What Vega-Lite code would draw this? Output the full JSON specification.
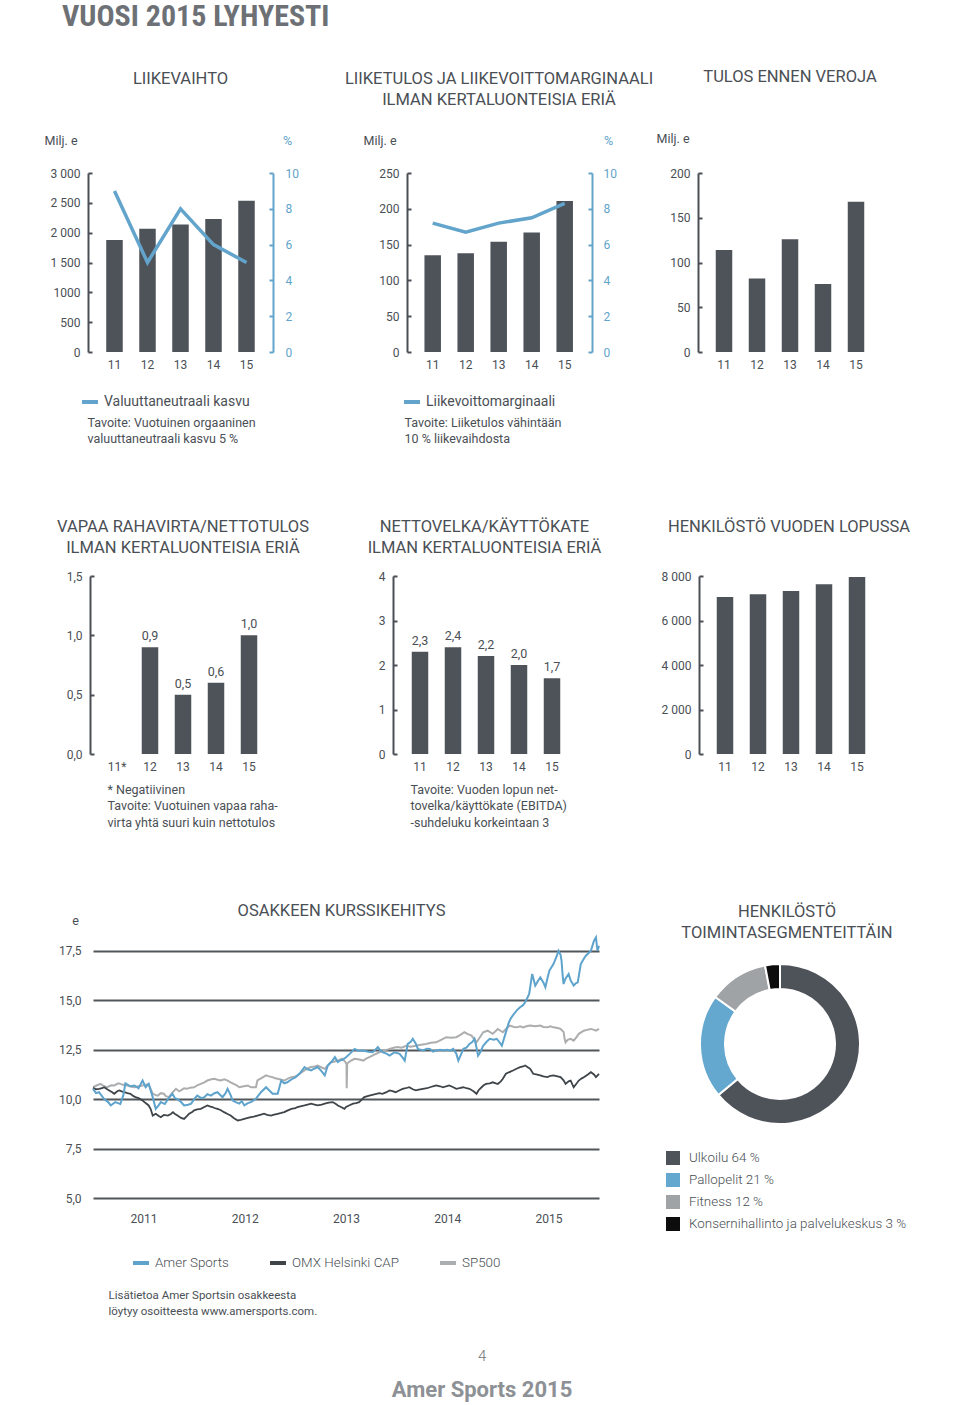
{
  "$schema": "https://vega.github.io/schema/vega-lite/v6.json",
  "padding": {"left": 44, "top": 1, "right": 10, "bottom": 4},
  "background": "white",
  "title": {"text": "4", "subtitle": "Amer Sports 2015", "orient": "bottom", "anchor": "middle", "frame": "bounds", "dx": 5, "offset": 32, "fontSize": 15, "fontWeight": 300, "color": "#707478", "subtitleFont": "Roboto", "subtitleFontSize": 22, "subtitleFontWeight": "bold", "subtitleColor": "#8d9094", "subtitlePadding": 16},
  "spacing": 73,
  "resolve": {"scale": {"color": "independent"}},
  "datasets": {
    "amer": [{"t":2011,"v":10.52},{"t":2011.03,"v":10.3},{"t":2011.06,"v":10.35},{"t":2011.11,"v":10},{"t":2011.15,"v":9.85},{"t":2011.175,"v":9.68},{"t":2011.22,"v":9.85},{"t":2011.27,"v":9.75},{"t":2011.3,"v":10.2},{"t":2011.32,"v":10.8},{"t":2011.37,"v":10.65},{"t":2011.41,"v":10.69},{"t":2011.45,"v":10.55},{"t":2011.49,"v":10.94},{"t":2011.52,"v":10.6},{"t":2011.55,"v":10.77},{"t":2011.59,"v":10.1},{"t":2011.62,"v":9.51},{"t":2011.65,"v":9.7},{"t":2011.67,"v":9.85},{"t":2011.71,"v":9.75},{"t":2011.74,"v":10},{"t":2011.785,"v":10.27},{"t":2011.81,"v":10.05},{"t":2011.835,"v":10},{"t":2011.87,"v":9.85},{"t":2011.9,"v":9.68},{"t":2011.94,"v":9.72},{"t":2011.97,"v":9.77},{"t":2012,"v":10},{"t":2012.03,"v":10.18},{"t":2012.07,"v":10.05},{"t":2012.1,"v":10.1},{"t":2012.13,"v":10.25},{"t":2012.165,"v":10.18},{"t":2012.2,"v":10.3},{"t":2012.23,"v":10.35},{"t":2012.26,"v":10.2},{"t":2012.28,"v":10.1},{"t":2012.31,"v":10.3},{"t":2012.33,"v":10.52},{"t":2012.36,"v":10.2},{"t":2012.38,"v":9.93},{"t":2012.41,"v":9.85},{"t":2012.445,"v":9.77},{"t":2012.47,"v":9.9},{"t":2012.495,"v":9.68},{"t":2012.53,"v":9.8},{"t":2012.56,"v":9.85},{"t":2012.61,"v":10.02},{"t":2012.66,"v":10.35},{"t":2012.71,"v":10.6},{"t":2012.74,"v":10.45},{"t":2012.775,"v":10.27},{"t":2012.825,"v":10.27},{"t":2012.86,"v":10.94},{"t":2012.89,"v":10.8},{"t":2012.92,"v":10.85},{"t":2012.97,"v":11.03},{"t":2013,"v":11.1},{"t":2013.04,"v":11.28},{"t":2013.09,"v":11.62},{"t":2013.12,"v":11.5},{"t":2013.155,"v":11.45},{"t":2013.19,"v":11.55},{"t":2013.22,"v":11.62},{"t":2013.26,"v":11.4},{"t":2013.29,"v":11.2},{"t":2013.32,"v":11.7},{"t":2013.36,"v":11.9},{"t":2013.39,"v":12.12},{"t":2013.42,"v":11.87},{"t":2013.44,"v":11.95},{"t":2013.47,"v":12},{"t":2013.5,"v":12.12},{"t":2013.54,"v":12.3},{"t":2013.585,"v":12.54},{"t":2013.62,"v":12.45},{"t":2013.67,"v":12.46},{"t":2013.72,"v":12.4},{"t":2013.765,"v":12.37},{"t":2013.79,"v":12.5},{"t":2013.815,"v":12.63},{"t":2013.84,"v":12.45},{"t":2013.865,"v":12.37},{"t":2013.9,"v":12.3},{"t":2013.93,"v":12.2},{"t":2013.96,"v":12.3},{"t":2013.98,"v":12.37},{"t":2014.03,"v":12.29},{"t":2014.06,"v":12.1},{"t":2014.08,"v":11.95},{"t":2014.11,"v":12.79},{"t":2014.14,"v":12.9},{"t":2014.16,"v":13.05},{"t":2014.19,"v":12.8},{"t":2014.21,"v":12.54},{"t":2014.26,"v":12.46},{"t":2014.3,"v":12.55},{"t":2014.33,"v":12.54},{"t":2014.36,"v":12.4},{"t":2014.39,"v":12.46},{"t":2014.43,"v":12.5},{"t":2014.46,"v":12.46},{"t":2014.5,"v":12.5},{"t":2014.53,"v":12.45},{"t":2014.56,"v":12.54},{"t":2014.59,"v":12.3},{"t":2014.61,"v":11.95},{"t":2014.64,"v":12.3},{"t":2014.66,"v":12.54},{"t":2014.69,"v":12.6},{"t":2014.72,"v":12.79},{"t":2014.75,"v":12.9},{"t":2014.77,"v":13.05},{"t":2014.79,"v":12.6},{"t":2014.805,"v":12.2},{"t":2014.83,"v":12.4},{"t":2014.855,"v":12.7},{"t":2014.89,"v":12.9},{"t":2014.92,"v":13.05},{"t":2014.96,"v":13},{"t":2014.99,"v":13.05},{"t":2015.02,"v":12.85},{"t":2015.04,"v":12.7},{"t":2015.07,"v":13.21},{"t":2015.11,"v":13.89},{"t":2015.13,"v":14.1},{"t":2015.16,"v":14.31},{"t":2015.19,"v":14.5},{"t":2015.22,"v":14.65},{"t":2015.25,"v":14.75},{"t":2015.27,"v":14.9},{"t":2015.29,"v":15.1},{"t":2015.31,"v":15.32},{"t":2015.33,"v":16},{"t":2015.34,"v":16.33},{"t":2015.37,"v":15.74},{"t":2015.4,"v":16},{"t":2015.42,"v":16.16},{"t":2015.45,"v":15.9},{"t":2015.47,"v":15.66},{"t":2015.49,"v":16.1},{"t":2015.51,"v":16.5},{"t":2015.55,"v":16.83},{"t":2015.58,"v":17.2},{"t":2015.6,"v":17.5},{"t":2015.62,"v":17.3},{"t":2015.63,"v":17},{"t":2015.64,"v":16.3},{"t":2015.65,"v":15.82},{"t":2015.67,"v":16.1},{"t":2015.7,"v":16.33},{"t":2015.72,"v":16},{"t":2015.75,"v":15.74},{"t":2015.77,"v":15.85},{"t":2015.79,"v":15.9},{"t":2015.82,"v":16.83},{"t":2015.85,"v":17.1},{"t":2015.87,"v":17.25},{"t":2015.9,"v":17.4},{"t":2015.92,"v":17.5},{"t":2015.95,"v":18},{"t":2015.97,"v":18.18},{"t":2015.985,"v":17.5},{"t":2016,"v":17.75}],
    "omx": [{"t":2011,"v":10.57},{"t":2011.03,"v":10.5},{"t":2011.06,"v":10.52},{"t":2011.09,"v":10.55},{"t":2011.11,"v":10.6},{"t":2011.14,"v":10.5},{"t":2011.16,"v":10.44},{"t":2011.19,"v":10.35},{"t":2011.21,"v":10.27},{"t":2011.24,"v":10.4},{"t":2011.26,"v":10.44},{"t":2011.29,"v":10.38},{"t":2011.31,"v":10.35},{"t":2011.34,"v":10.3},{"t":2011.37,"v":10.27},{"t":2011.4,"v":10.15},{"t":2011.42,"v":10.1},{"t":2011.45,"v":10.05},{"t":2011.49,"v":9.93},{"t":2011.52,"v":9.8},{"t":2011.55,"v":9.68},{"t":2011.57,"v":9.5},{"t":2011.59,"v":9.17},{"t":2011.62,"v":9.26},{"t":2011.65,"v":9.15},{"t":2011.67,"v":9.09},{"t":2011.7,"v":9.2},{"t":2011.74,"v":9.17},{"t":2011.77,"v":9.25},{"t":2011.79,"v":9.34},{"t":2011.81,"v":9.25},{"t":2011.835,"v":9.17},{"t":2011.87,"v":9.05},{"t":2011.9,"v":9},{"t":2011.93,"v":9.15},{"t":2011.95,"v":9.26},{"t":2011.98,"v":9.35},{"t":2012,"v":9.43},{"t":2012.03,"v":9.48},{"t":2012.065,"v":9.51},{"t":2012.1,"v":9.6},{"t":2012.13,"v":9.68},{"t":2012.16,"v":9.62},{"t":2012.18,"v":9.6},{"t":2012.2,"v":9.55},{"t":2012.23,"v":9.51},{"t":2012.26,"v":9.45},{"t":2012.295,"v":9.34},{"t":2012.33,"v":9.25},{"t":2012.36,"v":9.17},{"t":2012.39,"v":9.05},{"t":2012.43,"v":8.92},{"t":2012.46,"v":8.95},{"t":2012.495,"v":9},{"t":2012.53,"v":9.05},{"t":2012.56,"v":9.09},{"t":2012.59,"v":9.12},{"t":2012.625,"v":9.17},{"t":2012.66,"v":9.22},{"t":2012.69,"v":9.26},{"t":2012.72,"v":9.2},{"t":2012.76,"v":9.17},{"t":2012.79,"v":9.22},{"t":2012.825,"v":9.26},{"t":2012.86,"v":9.3},{"t":2012.89,"v":9.34},{"t":2012.92,"v":9.42},{"t":2012.96,"v":9.51},{"t":2013,"v":9.55},{"t":2013.02,"v":9.6},{"t":2013.06,"v":9.65},{"t":2013.09,"v":9.68},{"t":2013.12,"v":9.72},{"t":2013.155,"v":9.77},{"t":2013.19,"v":9.72},{"t":2013.22,"v":9.68},{"t":2013.26,"v":9.72},{"t":2013.29,"v":9.77},{"t":2013.33,"v":9.82},{"t":2013.37,"v":9.85},{"t":2013.4,"v":9.75},{"t":2013.42,"v":9.68},{"t":2013.45,"v":9.6},{"t":2013.485,"v":9.51},{"t":2013.5,"v":9.6},{"t":2013.53,"v":9.68},{"t":2013.57,"v":9.77},{"t":2013.6,"v":9.8},{"t":2013.63,"v":9.85},{"t":2013.66,"v":10},{"t":2013.68,"v":10.1},{"t":2013.73,"v":10.18},{"t":2013.76,"v":10.22},{"t":2013.8,"v":10.27},{"t":2013.83,"v":10.3},{"t":2013.86,"v":10.27},{"t":2013.9,"v":10.35},{"t":2013.93,"v":10.44},{"t":2013.96,"v":10.4},{"t":2013.99,"v":10.35},{"t":2014.03,"v":10.45},{"t":2014.06,"v":10.52},{"t":2014.09,"v":10.55},{"t":2014.125,"v":10.6},{"t":2014.16,"v":10.5},{"t":2014.19,"v":10.44},{"t":2014.22,"v":10.48},{"t":2014.26,"v":10.52},{"t":2014.3,"v":10.55},{"t":2014.33,"v":10.6},{"t":2014.36,"v":10.65},{"t":2014.39,"v":10.69},{"t":2014.43,"v":10.65},{"t":2014.46,"v":10.6},{"t":2014.49,"v":10.65},{"t":2014.52,"v":10.69},{"t":2014.56,"v":10.6},{"t":2014.59,"v":10.52},{"t":2014.62,"v":10.55},{"t":2014.66,"v":10.6},{"t":2014.69,"v":10.55},{"t":2014.72,"v":10.52},{"t":2014.76,"v":10.4},{"t":2014.79,"v":10.27},{"t":2014.81,"v":10.45},{"t":2014.84,"v":10.6},{"t":2014.86,"v":10.7},{"t":2014.885,"v":10.77},{"t":2014.92,"v":10.8},{"t":2014.95,"v":10.85},{"t":2014.98,"v":10.8},{"t":2015,"v":10.77},{"t":2015.03,"v":10.9},{"t":2015.05,"v":11.03},{"t":2015.08,"v":11.28},{"t":2015.12,"v":11.38},{"t":2015.15,"v":11.45},{"t":2015.19,"v":11.55},{"t":2015.22,"v":11.62},{"t":2015.25,"v":11.65},{"t":2015.27,"v":11.7},{"t":2015.3,"v":11.6},{"t":2015.32,"v":11.53},{"t":2015.35,"v":11.28},{"t":2015.38,"v":11.25},{"t":2015.42,"v":11.2},{"t":2015.45,"v":11.15},{"t":2015.49,"v":11.11},{"t":2015.52,"v":11.18},{"t":2015.55,"v":11.2},{"t":2015.59,"v":11.15},{"t":2015.62,"v":11.11},{"t":2015.65,"v":10.95},{"t":2015.67,"v":10.77},{"t":2015.7,"v":10.9},{"t":2015.72,"v":10.94},{"t":2015.75,"v":10.6},{"t":2015.78,"v":10.8},{"t":2015.8,"v":10.94},{"t":2015.83,"v":11.05},{"t":2015.85,"v":11.11},{"t":2015.89,"v":11.25},{"t":2015.92,"v":11.36},{"t":2015.95,"v":11.25},{"t":2015.97,"v":11.11},{"t":2016,"v":11.28}],
    "sp500": [{"t":2011,"v":10.6},{"t":2011.04,"v":10.7},{"t":2011.075,"v":10.77},{"t":2011.11,"v":10.65},{"t":2011.14,"v":10.6},{"t":2011.18,"v":10.7},{"t":2011.21,"v":10.69},{"t":2011.25,"v":10.8},{"t":2011.27,"v":10.77},{"t":2011.31,"v":10.7},{"t":2011.34,"v":10.69},{"t":2011.38,"v":10.62},{"t":2011.41,"v":10.6},{"t":2011.45,"v":10.65},{"t":2011.49,"v":10.69},{"t":2011.52,"v":10.72},{"t":2011.55,"v":10.77},{"t":2011.57,"v":10.5},{"t":2011.59,"v":10.27},{"t":2011.62,"v":10.2},{"t":2011.64,"v":10.18},{"t":2011.67,"v":10.3},{"t":2011.7,"v":10.27},{"t":2011.72,"v":10.15},{"t":2011.75,"v":10.1},{"t":2011.78,"v":10.3},{"t":2011.82,"v":10.52},{"t":2011.85,"v":10.4},{"t":2011.87,"v":10.44},{"t":2011.9,"v":10.55},{"t":2011.93,"v":10.52},{"t":2011.96,"v":10.58},{"t":2012,"v":10.6},{"t":2012.03,"v":10.7},{"t":2012.065,"v":10.77},{"t":2012.1,"v":10.85},{"t":2012.13,"v":10.94},{"t":2012.17,"v":11},{"t":2012.2,"v":11.03},{"t":2012.23,"v":10.98},{"t":2012.26,"v":10.94},{"t":2012.3,"v":11},{"t":2012.33,"v":10.94},{"t":2012.36,"v":10.85},{"t":2012.39,"v":10.77},{"t":2012.42,"v":10.7},{"t":2012.445,"v":10.6},{"t":2012.49,"v":10.65},{"t":2012.53,"v":10.69},{"t":2012.56,"v":10.6},{"t":2012.61,"v":10.6},{"t":2012.625,"v":10.95},{"t":2012.66,"v":11.05},{"t":2012.71,"v":11.2},{"t":2012.74,"v":11.15},{"t":2012.775,"v":11.11},{"t":2012.8,"v":11.05},{"t":2012.825,"v":11.03},{"t":2012.86,"v":10.98},{"t":2012.89,"v":10.94},{"t":2012.93,"v":11.05},{"t":2012.96,"v":11.11},{"t":2013,"v":11.15},{"t":2013.02,"v":11.2},{"t":2013.06,"v":11.35},{"t":2013.09,"v":11.45},{"t":2013.12,"v":11.55},{"t":2013.155,"v":11.62},{"t":2013.19,"v":11.65},{"t":2013.22,"v":11.7},{"t":2013.26,"v":11.6},{"t":2013.29,"v":11.53},{"t":2013.32,"v":11.7},{"t":2013.35,"v":11.87},{"t":2013.39,"v":11.9},{"t":2013.42,"v":11.95},{"t":2013.46,"v":12.04},{"t":2013.49,"v":11.9},{"t":2013.505,"v":11.78},{"t":2013.507,"v":10.55},{"t":2013.512,"v":11.8},{"t":2013.55,"v":11.95},{"t":2013.585,"v":12.04},{"t":2013.63,"v":12},{"t":2013.67,"v":11.95},{"t":2013.7,"v":12.05},{"t":2013.73,"v":12.12},{"t":2013.78,"v":12.25},{"t":2013.83,"v":12.37},{"t":2013.88,"v":12.45},{"t":2013.93,"v":12.54},{"t":2013.97,"v":12.6},{"t":2014.01,"v":12.63},{"t":2014.05,"v":12.6},{"t":2014.095,"v":12.7},{"t":2014.14,"v":12.65},{"t":2014.19,"v":12.7},{"t":2014.24,"v":12.75},{"t":2014.29,"v":12.79},{"t":2014.34,"v":12.85},{"t":2014.39,"v":12.87},{"t":2014.44,"v":13},{"t":2014.49,"v":13.13},{"t":2014.54,"v":13.1},{"t":2014.59,"v":13.13},{"t":2014.63,"v":13.25},{"t":2014.67,"v":13.38},{"t":2014.7,"v":13.3},{"t":2014.74,"v":13.21},{"t":2014.79,"v":12.87},{"t":2014.82,"v":13.1},{"t":2014.855,"v":13.38},{"t":2014.9,"v":13.46},{"t":2014.95,"v":13.3},{"t":2015,"v":13.55},{"t":2015.05,"v":13.38},{"t":2015.08,"v":13.55},{"t":2015.12,"v":13.72},{"t":2015.16,"v":13.65},{"t":2015.19,"v":13.63},{"t":2015.22,"v":13.68},{"t":2015.25,"v":13.63},{"t":2015.29,"v":13.7},{"t":2015.32,"v":13.72},{"t":2015.37,"v":13.68},{"t":2015.42,"v":13.72},{"t":2015.45,"v":13.65},{"t":2015.49,"v":13.63},{"t":2015.52,"v":13.68},{"t":2015.55,"v":13.63},{"t":2015.59,"v":13.6},{"t":2015.62,"v":13.55},{"t":2015.65,"v":13.4},{"t":2015.66,"v":13.05},{"t":2015.67,"v":12.87},{"t":2015.69,"v":13},{"t":2015.72,"v":13.05},{"t":2015.75,"v":12.96},{"t":2015.78,"v":13.15},{"t":2015.8,"v":13.3},{"t":2015.85,"v":13.46},{"t":2015.88,"v":13.5},{"t":2015.92,"v":13.55},{"t":2015.95,"v":13.5},{"t":2015.97,"v":13.46},{"t":2016,"v":13.55}]
  },
  "vconcat": [
    {
      "title": {"text": "VUOSI 2015 LYHYESTI", "anchor": "start", "frame": "group", "dx": -31, "offset": 37, "font": "Roboto Condensed, Roboto", "fontSize": 30, "fontWeight": "bold", "color": "#6d7176"},
      "bounds": "flush",
      "spacing": 25,
      "resolve": {"scale": {"color": "independent"}},
      "hconcat": [
        {
          "width": 175, "height": 179,
          "title": {"text": "LIIKEVAIHTO", "offset": 47},
          "data": {"values": [
            {"vuosi": "11", "liikevaihto": 1878, "kasvu": 9},
            {"vuosi": "12", "liikevaihto": 2064, "kasvu": 5},
            {"vuosi": "13", "liikevaihto": 2136, "kasvu": 8},
            {"vuosi": "14", "liikevaihto": 2228, "kasvu": 6},
            {"vuosi": "15", "liikevaihto": 2534, "kasvu": 5}
          ]},
          "encoding": {
            "x": {"field": "vuosi", "type": "ordinal", "scale": {"paddingInner": 0.5, "paddingOuter": 0.4015, "align": 0.5},
                  "axis": {"title": ["Tavoite: Vuotuinen orgaaninen", "valuuttaneutraali kasvu 5 %"], "titleX": -6, "titleY": 64}}
          },
          "layer": [
            {"mark": {"type": "bar", "color": "#4e535a"},
             "encoding": {"y": {"field": "liikevaihto", "type": "quantitative", "scale": {"domain": [0, 3000]},
               "axis": {"values": [0, 500, 1000, 1500, 2000, 2500, 3000], "labelExpr": "datum.value == 1000 ? '1000' : replace(format(datum.value, ','), ',', ' ')", "offset": 5, "title": "Milj. e", "titleX": -44, "titleY": -33}}}},
            {"mark": {"type": "line", "strokeWidth": 3.5},
             "encoding": {
               "y": {"field": "kasvu", "type": "quantitative", "scale": {"domain": [0, 10]},
                 "axis": {"orient": "right", "values": [0, 2, 4, 6, 8, 10], "offset": 5, "labelPadding": 16, "domainColor": "#62a4cb", "tickColor": "#62a4cb", "labelColor": "#62a4cb", "titleColor": "#62a4cb", "title": "%", "titleX": 14, "titleY": -33, "titleAlign": "center"}},
               "color": {"datum": "Valuuttaneutraali kasvu", "type": "nominal", "scale": {"range": ["#62a4cb"]},
                 "legend": {"title": null, "orient": "none", "legendX": -13, "legendY": 219, "symbolType": "stroke", "symbolSize": 256, "symbolStrokeWidth": 4}}}}
          ],
          "resolve": {"scale": {"y": "independent"}}
        },
        {
          "width": 299, "height": 179,
          "title": {"text": ["LIIKETULOS JA LIIKEVOITTOMARGINAALI", "ILMAN KERTALUONTEISIA ERIÄ"], "offset": 26, "dx": 56.5},
          "data": {"values": [
            {"vuosi": "11", "liiketulos": 135, "marginaali": 7.2},
            {"vuosi": "12", "liiketulos": 138, "marginaali": 6.7},
            {"vuosi": "13", "liiketulos": 154, "marginaali": 7.2},
            {"vuosi": "14", "liiketulos": 167, "marginaali": 7.5},
            {"vuosi": "15", "liiketulos": 211, "marginaali": 8.3}
          ]},
          "encoding": {
            "x": {"field": "vuosi", "type": "ordinal", "scale": {"paddingInner": 0.5, "paddingOuter": 0.25, "range": [123.2, 288.2]},
                  "axis": {"title": ["Tavoite: Liiketulos vähintään", "10 % liikevaihdosta"], "titleX": 111, "titleY": 64}}
          },
          "layer": [
            {"mark": {"type": "bar", "color": "#4e535a"},
             "encoding": {"y": {"field": "liiketulos", "type": "quantitative", "scale": {"domain": [0, 250]},
               "axis": {"values": [0, 50, 100, 150, 200, 250], "offset": -114, "title": "Milj. e", "titleX": -44, "titleY": -33}}}},
            {"mark": {"type": "line", "strokeWidth": 3.5},
             "encoding": {
               "y": {"field": "marginaali", "type": "quantitative", "scale": {"domain": [0, 10]},
                 "axis": {"orient": "right", "values": [0, 2, 4, 6, 8, 10], "offset": 0, "labelPadding": 15, "domainColor": "#62a4cb", "tickColor": "#62a4cb", "labelColor": "#62a4cb", "titleColor": "#62a4cb", "title": "%", "titleX": 16, "titleY": -33, "titleAlign": "center"}},
               "color": {"datum": "Liikevoittomarginaali", "type": "nominal", "scale": {"range": ["#62a4cb"]},
                 "legend": {"title": null, "orient": "none", "legendX": 109, "legendY": 219, "symbolType": "stroke", "symbolSize": 256, "symbolStrokeWidth": 4}}}}
          ],
          "resolve": {"scale": {"y": "independent"}}
        },
        {
          "width": 267, "height": 179,
          "title": {"text": "TULOS ENNEN VEROJA", "offset": 47, "dx": 39.5},
          "data": {"values": [
            {"vuosi": "11", "tulos": 114},
            {"vuosi": "12", "tulos": 82},
            {"vuosi": "13", "tulos": 126},
            {"vuosi": "14", "tulos": 76},
            {"vuosi": "15", "tulos": 168}
          ]},
          "mark": {"type": "bar", "color": "#4e535a"},
          "encoding": {
            "x": {"field": "vuosi", "type": "ordinal", "scale": {"paddingInner": 0.5, "paddingOuter": 0.25, "range": [90.5, 255.5]}, "axis": {"title": null}},
            "y": {"field": "tulos", "type": "quantitative", "scale": {"domain": [0, 200]},
              "axis": {"values": [0, 50, 100, 150, 200], "offset": -81, "title": "Milj. e", "titleX": -42, "titleY": -35}}
          }
        }
      ]
    },
    {
      "bounds": "flush",
      "spacing": 25,
      "resolve": {"scale": {"color": "independent"}},
      "hconcat": [
        {
          "width": 180, "height": 178,
          "title": {"text": ["VAPAA RAHAVIRTA/NETTOTULOS", "ILMAN KERTALUONTEISIA ERIÄ"], "offset": 14},
          "data": {"values": [
            {"vuosi": "11*", "suhde": 0, "nimike": ""},
            {"vuosi": "12", "suhde": 0.9, "nimike": "0,9"},
            {"vuosi": "13", "suhde": 0.5, "nimike": "0,5"},
            {"vuosi": "14", "suhde": 0.6, "nimike": "0,6"},
            {"vuosi": "15", "suhde": 1.0, "nimike": "1,0"}
          ]},
          "encoding": {
            "x": {"field": "vuosi", "type": "ordinal", "sort": null, "scale": {"paddingInner": 0.5, "paddingOuter": 0.477, "align": 0.5},
                  "axis": {"title": ["* Negatiivinen", "Tavoite: Vuotuinen vapaa raha-", "virta yhtä suuri kuin nettotulos"], "titleX": 14, "titleY": 29}},
            "y": {"field": "suhde", "type": "quantitative", "scale": {"domain": [0, 1.5]},
                  "axis": {"values": [0, 0.5, 1, 1.5], "labelExpr": "replace(format(datum.value, '.1f'), '.', ',')", "offset": 3, "title": null}}
          },
          "layer": [
            {"mark": {"type": "bar", "color": "#4e535a"}},
            {"mark": {"type": "text", "dy": -11, "fontSize": 12.5, "color": "#4a4f55"}, "encoding": {"text": {"field": "nimike"}}}
          ]
        },
        {
          "width": 281, "height": 178,
          "title": {"text": ["NETTOVELKA/KÄYTTÖKATE", "ILMAN KERTALUONTEISIA ERIÄ"], "offset": 14, "dx": 46},
          "data": {"values": [
            {"vuosi": "11", "suhde": 2.3, "nimike": "2,3"},
            {"vuosi": "12", "suhde": 2.4, "nimike": "2,4"},
            {"vuosi": "13", "suhde": 2.2, "nimike": "2,2"},
            {"vuosi": "14", "suhde": 2.0, "nimike": "2,0"},
            {"vuosi": "15", "suhde": 1.7, "nimike": "1,7"}
          ]},
          "encoding": {
            "x": {"field": "vuosi", "type": "ordinal", "scale": {"paddingInner": 0.5, "paddingOuter": 0.25, "range": [105.5, 270.5]},
                  "axis": {"title": ["Tavoite: Vuoden lopun net-", "tovelka/käyttökate (EBITDA)", "-suhdeluku korkeintaan 3"], "titleX": 112, "titleY": 29}},
            "y": {"field": "suhde", "type": "quantitative", "scale": {"domain": [0, 4]},
                  "axis": {"values": [0, 1, 2, 3, 4], "offset": -95, "title": null}}
          },
          "layer": [
            {"mark": {"type": "bar", "color": "#4e535a"}},
            {"mark": {"type": "text", "dy": -11, "fontSize": 12.5, "color": "#4a4f55"}, "encoding": {"text": {"field": "nimike"}}}
          ]
        },
        {
          "width": 279, "height": 178,
          "title": {"text": "HENKILÖSTÖ VUODEN LOPUSSA", "offset": 35, "dx": 45.5},
          "data": {"values": [
            {"vuosi": "11", "henkilosto": 7055},
            {"vuosi": "12", "henkilosto": 7176},
            {"vuosi": "13", "henkilosto": 7325},
            {"vuosi": "14", "henkilosto": 7626},
            {"vuosi": "15", "henkilosto": 7955}
          ]},
          "mark": {"type": "bar", "color": "#4e535a"},
          "encoding": {
            "x": {"field": "vuosi", "type": "ordinal", "scale": {"paddingInner": 0.5, "paddingOuter": 0.25, "range": [104.5, 269.5]}, "axis": {"title": null}},
            "y": {"field": "henkilosto", "type": "quantitative", "scale": {"domain": [0, 8000]},
                  "axis": {"values": [0, 2000, 4000, 6000, 8000], "labelExpr": "replace(format(datum.value, ','), ',', ' ')", "offset": -95, "title": null}}
          }
        }
      ]
    },
    {
      "bounds": "flush",
      "spacing": 67,
      "resolve": {"scale": {"color": "independent"}},
      "hconcat": [
        {
          "width": 506, "height": 265,
          "title": {"text": "OSAKKEEN KURSSIKEHITYS", "dx": -4.5, "offset": -5},
          "encoding": {
            "x": {"field": "t", "type": "quantitative", "scale": {"domain": [2011, 2016], "nice": false, "zero": false},
                  "axis": {"values": [2011.5, 2012.5, 2013.5, 2014.5, 2015.5], "labelExpr": "format(floor(datum.value), 'd')", "labelPadding": 15,
                           "title": ["Lisätietoa Amer Sportsin osakkeesta", "löytyy osoitteesta www.amersports.com."], "titleX": 15, "titleY": 91, "titleFontSize": 11.5, "titleLineHeight": 16}},
            "y": {"field": "v", "type": "quantitative", "scale": {"domain": [5, 18.4], "nice": false, "zero": false},
                  "axis": {"values": [5, 7.5, 10, 12.5, 15, 17.5], "labelExpr": "replace(format(datum.value, '.1f'), '.', ',')", "domain": false, "ticks": false, "grid": true, "gridColor": "#51565b", "gridWidth": 2, "labelPadding": 12, "title": "e", "titleX": -18, "titleY": -13, "titleAlign": "center"}}
          },
          "layer": [
            {"data": {"name": "sp500"}, "mark": {"type": "line", "strokeWidth": 2},
             "encoding": {"color": {"datum": "SP500", "type": "nominal",
               "scale": {"domain": ["Amer Sports", "OMX Helsinki CAP", "SP500"], "range": ["#5ea3cc", "#3f4449", "#abadaf"]},
               "legend": {"title": null, "orient": "none", "direction": "horizontal", "legendX": 38, "legendY": 320, "columnPadding": 33, "symbolType": "stroke", "symbolSize": 256, "symbolStrokeWidth": 4, "labelFontSize": 13.4, "labelFontWeight": 300}}}},
            {"data": {"name": "omx"}, "mark": {"type": "line", "strokeWidth": 1.8},
             "encoding": {"color": {"datum": "OMX Helsinki CAP", "type": "nominal"}}},
            {"data": {"name": "amer"}, "mark": {"type": "line", "strokeWidth": 2},
             "encoding": {"color": {"datum": "Amer Sports", "type": "nominal"}}}
          ]
        },
        {
          "width": 228, "height": 222,
          "title": {"text": ["HENKILÖSTÖ", "TOIMINTASEGMENTEITTÄIN"], "dx": 7, "offset": -8},
          "data": {"values": [
            {"segmentti": "Ulkoilu 64 %", "osuus": 64, "jarjestys": 1},
            {"segmentti": "Pallopelit 21 %", "osuus": 21, "jarjestys": 2},
            {"segmentti": "Fitness 12 %", "osuus": 12, "jarjestys": 3},
            {"segmentti": "Konsernihallinto ja palvelukeskus 3 %", "osuus": 3, "jarjestys": 4}
          ]},
          "mark": {"type": "arc", "innerRadius": 55, "outerRadius": 80, "stroke": "white", "strokeWidth": 2},
          "encoding": {
            "theta": {"field": "osuus", "type": "quantitative", "stack": true},
            "order": {"field": "jarjestys", "type": "quantitative"},
            "color": {"field": "segmentti", "type": "nominal",
              "scale": {"domain": ["Ulkoilu 64 %", "Pallopelit 21 %", "Fitness 12 %", "Konsernihallinto ja palvelukeskus 3 %"], "range": ["#4e535a", "#64a7cf", "#a0a3a6", "#0d0d0d"]},
              "legend": {"title": null, "orient": "none", "legendX": 0, "legendY": 218, "symbolType": "square", "symbolSize": 196, "symbolStrokeWidth": 0, "rowPadding": 8, "labelOffset": 9, "labelFontSize": 13.4, "labelFontWeight": 300, "labelLimit": 320}}
          }
        }
      ]
    }
  ],
  "config": {
    "view": {"stroke": null},
    "font": "Roboto",
    "title": {"font": "Roboto", "fontSize": 16.5, "fontWeight": "normal", "color": "#4a4f55", "anchor": "middle", "frame": "group", "lineHeight": 21},
    "axis": {"labelFont": "Roboto", "labelFontSize": 12, "labelColor": "#4a4f55", "titleFont": "Roboto", "titleFontWeight": "normal", "titleColor": "#4a4f55", "grid": false},
    "axisX": {"domain": false, "ticks": false, "labelAngle": 0, "labelPadding": 7, "titleAlign": "left", "titleBaseline": "top", "titleFontSize": 12.5, "titleLineHeight": 16.5},
    "axisY": {"domainColor": "#4a4f55", "domainWidth": 2, "tickColor": "#4a4f55", "tickWidth": 2, "tickSize": -4, "labelPadding": 12, "titleAngle": 0, "titleAlign": "left", "titleBaseline": "middle", "titleFontSize": 12.5},
    "legend": {"labelFont": "Roboto", "labelFontSize": 14, "labelColor": "#4a4f55", "padding": 0, "labelLimit": 320}
  }
}
